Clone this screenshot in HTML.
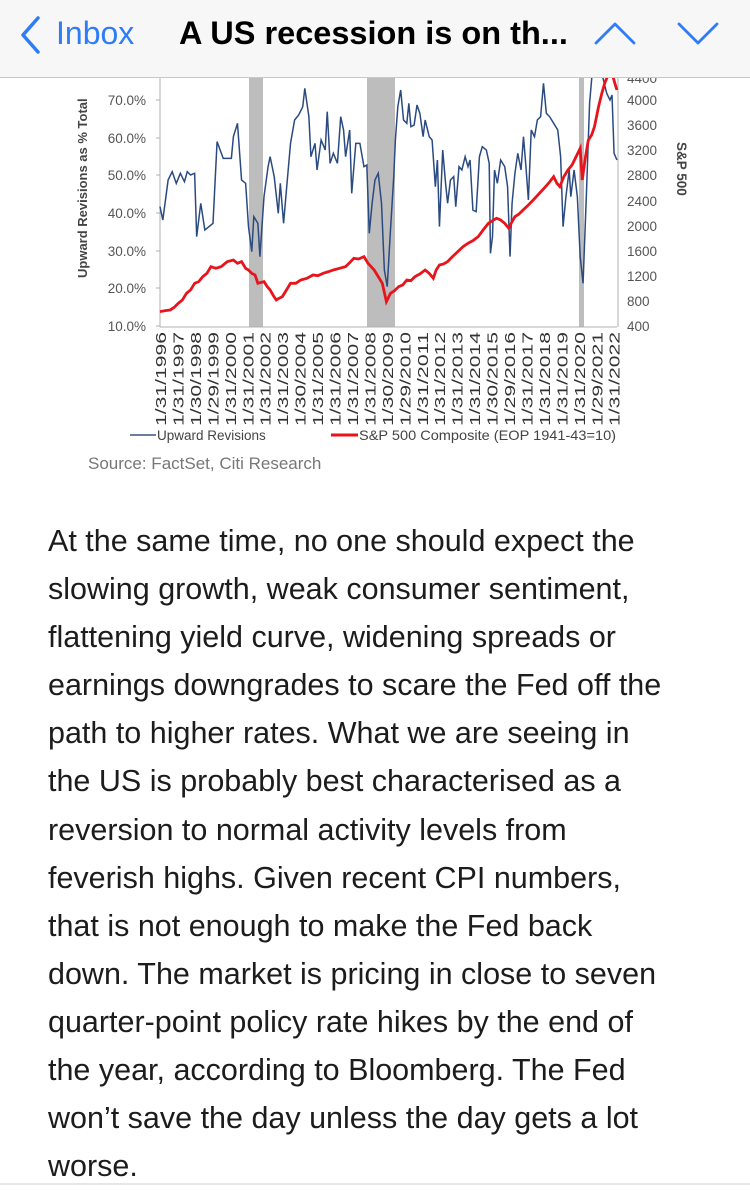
<!DOCTYPE html>
<html><head><meta charset="utf-8"><style>
html,body{margin:0;padding:0;background:#fff;width:750px;height:1186px;overflow:hidden;font-family:"Liberation Sans",sans-serif}
.hdr{position:absolute;left:0;top:0;width:750px;height:77px;background:#f7f7f7;border-bottom:1px solid #c8c8c8;z-index:5}
.body{position:absolute;left:48px;top:517px;font-size:30.5px;line-height:48.1px;color:#1c1c1c;white-space:nowrap}
</style></head><body>
<svg width="750" height="1186" style="position:absolute;left:0;top:0">
<defs><clipPath id="c"><rect x="140" y="78" width="480" height="252"/></clipPath></defs>
<g fill="#bdbdbd"><rect x="249" y="78" width="14" height="249"/><rect x="367" y="78" width="28" height="249"/><rect x="579" y="78" width="5" height="249"/></g>
<line x1="160" y1="78" x2="160" y2="327" stroke="#b0b0b0"/>
<line x1="160" y1="327" x2="617" y2="327" stroke="#b0b0b0"/>
<line x1="618" y1="78" x2="618" y2="327" stroke="#b0b0b0"/>
<g stroke="#b0b0b0">
<line x1="156" y1="100" x2="160" y2="100"/><line x1="156" y1="138" x2="160" y2="138"/><line x1="156" y1="175" x2="160" y2="175"/><line x1="156" y1="213" x2="160" y2="213"/><line x1="156" y1="251" x2="160" y2="251"/><line x1="156" y1="288" x2="160" y2="288"/><line x1="156" y1="326" x2="160" y2="326"/>
</g>
<g clip-path="url(#c)">
<g transform="translate(60,70) scale(0.408,0.3333)">
<polyline fill="none" stroke="#2b4a80" stroke-width="1.5" vector-effect="non-scaling-stroke" points="245,410 252,450 265,330 275,305 285,340 295,310 305,335 312,305 320,315 330,310 335,500 345,400 355,480 365,470 375,460 385,215 400,265 420,265 425,200 435,160 445,330 455,340 462,470 470,545 475,440 485,460 490,560 500,380 510,290 515,260 525,320 535,430 540,340 548,460 555,360 565,220 575,150 585,135 595,110 600,55 610,140 615,260 625,220 630,300 640,210 650,240 655,125 662,280 670,250 680,280 688,140 695,180 700,260 710,180 715,370 725,220 735,220 745,290 752,285 758,490 765,400 772,330 780,310 788,400 795,600 802,650 810,480 818,320 822,210 828,110 835,60 842,150 850,160 855,100 860,170 868,165 875,105 882,130 890,200 895,150 905,200 912,210 920,350 925,270 930,470 938,240 945,340 950,400 957,330 965,320 970,410 978,290 985,300 993,260 1000,290 1005,270 1012,420 1020,425 1028,260 1035,230 1045,240 1052,280 1055,550 1060,500 1065,300 1072,340 1080,270 1090,290 1097,350 1103,560 1108,400 1115,310 1122,250 1130,300 1136,200 1142,290 1148,390 1155,180 1163,200 1170,150 1178,140 1185,40 1192,130 1200,140 1210,160 1220,180 1227,260 1233,470 1240,380 1248,300 1252,380 1260,300 1268,380 1275,560 1282,640 1290,380 1298,100 1305,0 1320,0 1330,20 1340,70 1348,90 1353,75 1358,250 1365,270"/>
<polyline fill="none" stroke="#e8141b" stroke-width="2.8" vector-effect="non-scaling-stroke" points="245,725 258,722 270,720 280,712 290,700 300,690 310,670 320,660 330,640 340,635 350,620 360,610 370,590 382,595 395,590 410,575 425,570 435,580 445,575 455,595 462,600 470,610 478,615 485,640 500,635 508,650 515,660 522,675 530,690 537,685 545,680 555,660 565,640 578,640 590,630 605,625 620,615 632,617 645,610 658,605 670,600 685,595 700,590 710,578 720,565 732,567 745,560 755,580 770,600 780,620 790,640 800,695 810,670 820,662 830,650 840,645 850,630 860,632 870,620 882,612 895,600 905,610 915,625 922,600 930,585 940,582 950,575 962,560 975,545 988,530 1000,520 1012,512 1025,500 1037,480 1050,460 1060,452 1070,445 1080,450 1090,460 1100,475 1108,455 1115,440 1125,432 1135,420 1148,405 1160,390 1175,370 1190,350 1200,336 1210,320 1218,340 1225,350 1235,320 1245,300 1255,285 1265,260 1275,235 1280,330 1288,260 1295,210 1303,195 1310,170 1320,110 1328,70 1335,40 1345,10 1352,5 1360,40 1365,60"/>
</g></g>
<g font-size="13.5" fill="#555" text-anchor="end">
<text x="146" y="105">70.0%</text><text x="146" y="143">60.0%</text><text x="146" y="180">50.0%</text><text x="146" y="218">40.0%</text><text x="146" y="256">30.0%</text><text x="146" y="293">20.0%</text><text x="146" y="331">10.0%</text>
</g>
<g font-size="13.5" fill="#555">
<text x="627" y="83">4400</text><text x="627" y="105">4000</text><text x="627" y="130">3600</text><text x="627" y="155">3200</text><text x="627" y="180">2800</text><text x="627" y="206">2400</text><text x="627" y="231">2000</text><text x="627" y="256">1600</text><text x="627" y="281">1200</text><text x="627" y="306">800</text><text x="627" y="331">400</text>
</g>
<text transform="translate(87,278) rotate(-90)" font-size="13" font-weight="bold" fill="#444">Upward Revisions as % Total</text>
<text transform="translate(677,142) rotate(90)" font-size="13.5" font-weight="bold" fill="#444">S&amp;P 500</text>
<g font-size="14.5" fill="#333" id="xl"></g>
<line x1="130" y1="435" x2="156" y2="435" stroke="#6a7fa0" stroke-width="2"/>
<text x="157" y="440" font-size="13.5" fill="#444">Upward Revisions</text>
<line x1="331" y1="435" x2="358" y2="435" stroke="#e8141b" stroke-width="3"/>
<text x="359" y="440" font-size="14" fill="#444" textLength="257" lengthAdjust="spacingAndGlyphs">S&amp;P 500 Composite (EOP 1941-43=10)</text>
<text x="88" y="469" font-size="17" fill="#777">Source: FactSet, Citi Research</text>
<line x1="0" y1="1184" x2="750" y2="1184" stroke="#ccc"/>
</svg>
<script>
var L=["1/31/1996","1/31/1997","1/30/1998","1/29/1999","1/31/2000","1/31/2001","1/31/2002","1/31/2003","1/30/2004","1/31/2005","1/31/2006","1/31/2007","1/31/2008","1/30/2009","1/29/2010","1/31/2011","1/31/2012","1/31/2013","1/31/2014","1/30/2015","1/29/2016","1/31/2017","1/31/2018","1/31/2019","1/31/2020","1/29/2021","1/31/2022"];
var g=document.getElementById("xl"),s="";
for(var i=0;i<L.length;i++){var x=166+i*17.45;s+='<text transform="translate('+x+',426) rotate(-90)" textLength="94" lengthAdjust="spacingAndGlyphs">'+L[i]+'</text>';}
g.innerHTML=s;
</script>
<div class="hdr">
<svg width="750" height="77" style="position:absolute;left:0;top:0">
<polyline points="38,18 23,35 38,52" fill="none" stroke="#2f7cf6" stroke-width="3.5" stroke-linecap="round" stroke-linejoin="round"/>
<polyline points="596,43 615,24 634,43" fill="none" stroke="#2f7cf6" stroke-width="2.8" stroke-linecap="round" stroke-linejoin="round"/>
<polyline points="679,24 698,43 717,24" fill="none" stroke="#2f7cf6" stroke-width="2.8" stroke-linecap="round" stroke-linejoin="round"/>
</svg>
<div style="position:absolute;left:56px;top:15px;font-size:32px;color:#2f7cf6">Inbox</div>
<div style="position:absolute;left:179px;top:15px;font-size:32.5px;font-weight:bold;color:#000;letter-spacing:0px">A US recession is on th...</div>
</div>
<div class="body">At the same time, no one should expect the<br>slowing growth, weak consumer sentiment,<br>flattening yield curve, widening spreads or<br>earnings downgrades to scare the Fed off the<br>path to higher rates. What we are seeing in<br>the US is probably best characterised as a<br>reversion to normal activity levels from<br>feverish highs. Given recent CPI numbers,<br>that is not enough to make the Fed back<br>down. The market is pricing in close to seven<br>quarter-point policy rate hikes by the end of<br>the year, according to Bloomberg. The Fed<br>won’t save the day unless the day gets a lot<br>worse.</div>
</body></html>
